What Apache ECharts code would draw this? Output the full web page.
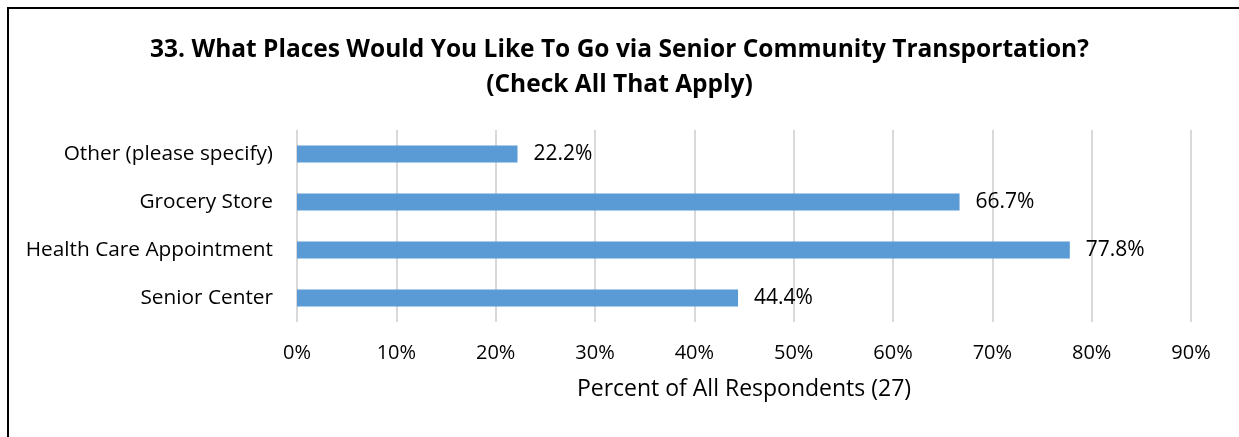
<!DOCTYPE html>
<html>
<head>
<meta charset="utf-8">
<script src="https://cdn.jsdelivr.net/npm/echarts@6/dist/echarts.min.js"></script>
<style>
  html, body { margin: 0; padding: 0; background: #fff; }
  #chart { width: 1239px; height: 437px; }
</style>
</head>
<body>
<div id="chart"></div>
<script>
// Destinations, listed bottom to top as they appear on the category axis
const places = ['Senior Center', 'Health Care Appointment', 'Grocery Store', 'Other (please specify)'];
// Share of all respondents (n = 27), in percent
const shares = [44.4, 77.8, 66.7, 22.2];
// Value axis ticks, in percent
const tickValues = [0, 10, 20, 30, 40, 50, 60, 70, 80, 90];

const FONT = '"Open Sans", "Noto Sans", sans-serif';

const chart = echarts.init(document.getElementById('chart'), null, { renderer: 'canvas' });

chart.setOption({
  animation: false,
  backgroundColor: '#ffffff',
  title: {
    text: '33. What Places Would You Like To Go via Senior Community Transportation?\n(Check All That Apply)',
    left: 'center',
    top: 28,
    textStyle: {
      fontFamily: FONT,
      fontWeight: 'bold',
      fontSize: 24.5,
      lineHeight: 35,
      color: '#000'
    }
  },
  graphic: [{
    type: 'rect',
    shape: { x: 8, y: 8, width: 1400, height: 600 },
    style: { fill: 'none', stroke: '#000', lineWidth: 2 },
    silent: true
  }],
  grid: { left: 297, right: 48, top: 130, bottom: 115 },
  xAxis: {
    type: 'value',
    min: tickValues[0],
    max: tickValues[tickValues.length - 1],
    interval: tickValues[1] - tickValues[0],
    name: 'Percent of All Respondents (27)',
    nameLocation: 'middle',
    nameGap: 56,
    nameTextStyle: { fontFamily: FONT, fontSize: 23, color: '#000' },
    axisLine: { show: false },
    axisTick: { show: false },
    axisLabel: {
      fontFamily: FONT, fontSize: 20, color: '#000', margin: 21,
      formatter: v => v + '%'
    },
    splitLine: { show: true, lineStyle: { color: '#d9d9d9', width: 2 } }
  },
  yAxis: {
    type: 'category',
    data: places,
    axisLine: { show: false },
    axisTick: { show: false },
    axisLabel: { fontFamily: FONT, fontSize: 20.8, color: '#000', margin: 24 }
  },
  series: [{
    type: 'bar',
    data: shares,
    barWidth: 17,
    itemStyle: { color: '#5b9bd5' },
    label: {
      show: true,
      position: 'right',
      distance: 16,
      fontFamily: FONT,
      fontSize: 21,
      color: '#000',
      formatter: p => p.value.toFixed(1) + '%'
    }
  }]
});
</script>
</body>
</html>
